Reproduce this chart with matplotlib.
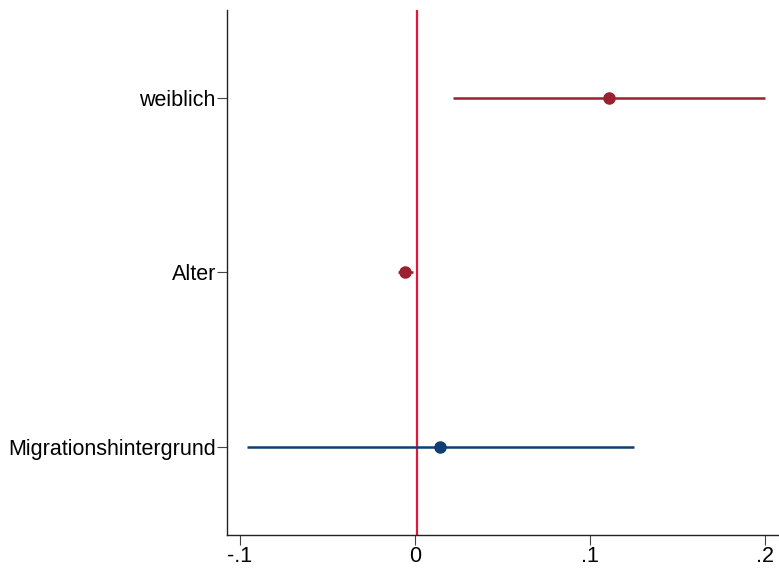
import matplotlib
matplotlib.use('Agg')
import matplotlib.pyplot as plt

plt.rcParams['font.family'] = ['Liberation Sans', 'DejaVu Sans']

# ── Daten ────────────────────────────────────────────────
labels = ['weiblich', 'Alter', 'Migrationshintergrund']
coef   = [0.1106, -0.0057, 0.0143]
ci_lo  = [0.0218, -0.0098, -0.0957]
ci_hi  = [0.2000, -0.0010, 0.1249]
colors = ['#9b2030', '#9b2030', '#0d3f72']

fig = plt.figure(figsize=(7.79, 5.72), dpi=100)
ax = fig.add_axes([227 / 779, 1 - 535 / 572, 1 - 227 / 779, 525 / 572])

for i, (c, lo, hi, col) in enumerate(zip(coef, ci_lo, ci_hi, colors)):
    y = i + 1
    ax.plot([lo, hi], [y, y], color=col, lw=1.8, solid_capstyle='butt', zorder=2)
    ax.plot(c, y, 'o', color=col, ms=8, zorder=3)

ax.axvline(0.001, color='#e3173a', lw=1.6, zorder=1)

ax.set_xlim(-0.1074, 0.208)
ax.set_ylim(3.507, 0.494)
ax.set_yticks([1, 2, 3])
ax.set_yticklabels(labels, fontsize=15.5)
ax.set_xticks([-0.1, 0, 0.1, 0.2])
ax.set_xticklabels(['-.1', '0', '.1', '.2'], fontsize=15.5)
ax.tick_params(axis='both', length=7, width=0.8, color='#444444', pad=1)
for s in ['top', 'right']:
    ax.spines[s].set_visible(False)
for s in ['left', 'bottom']:
    ax.spines[s].set_linewidth(1.0)
    ax.spines[s].set_color('#222222')

fig.savefig('out.png', dpi=100)
